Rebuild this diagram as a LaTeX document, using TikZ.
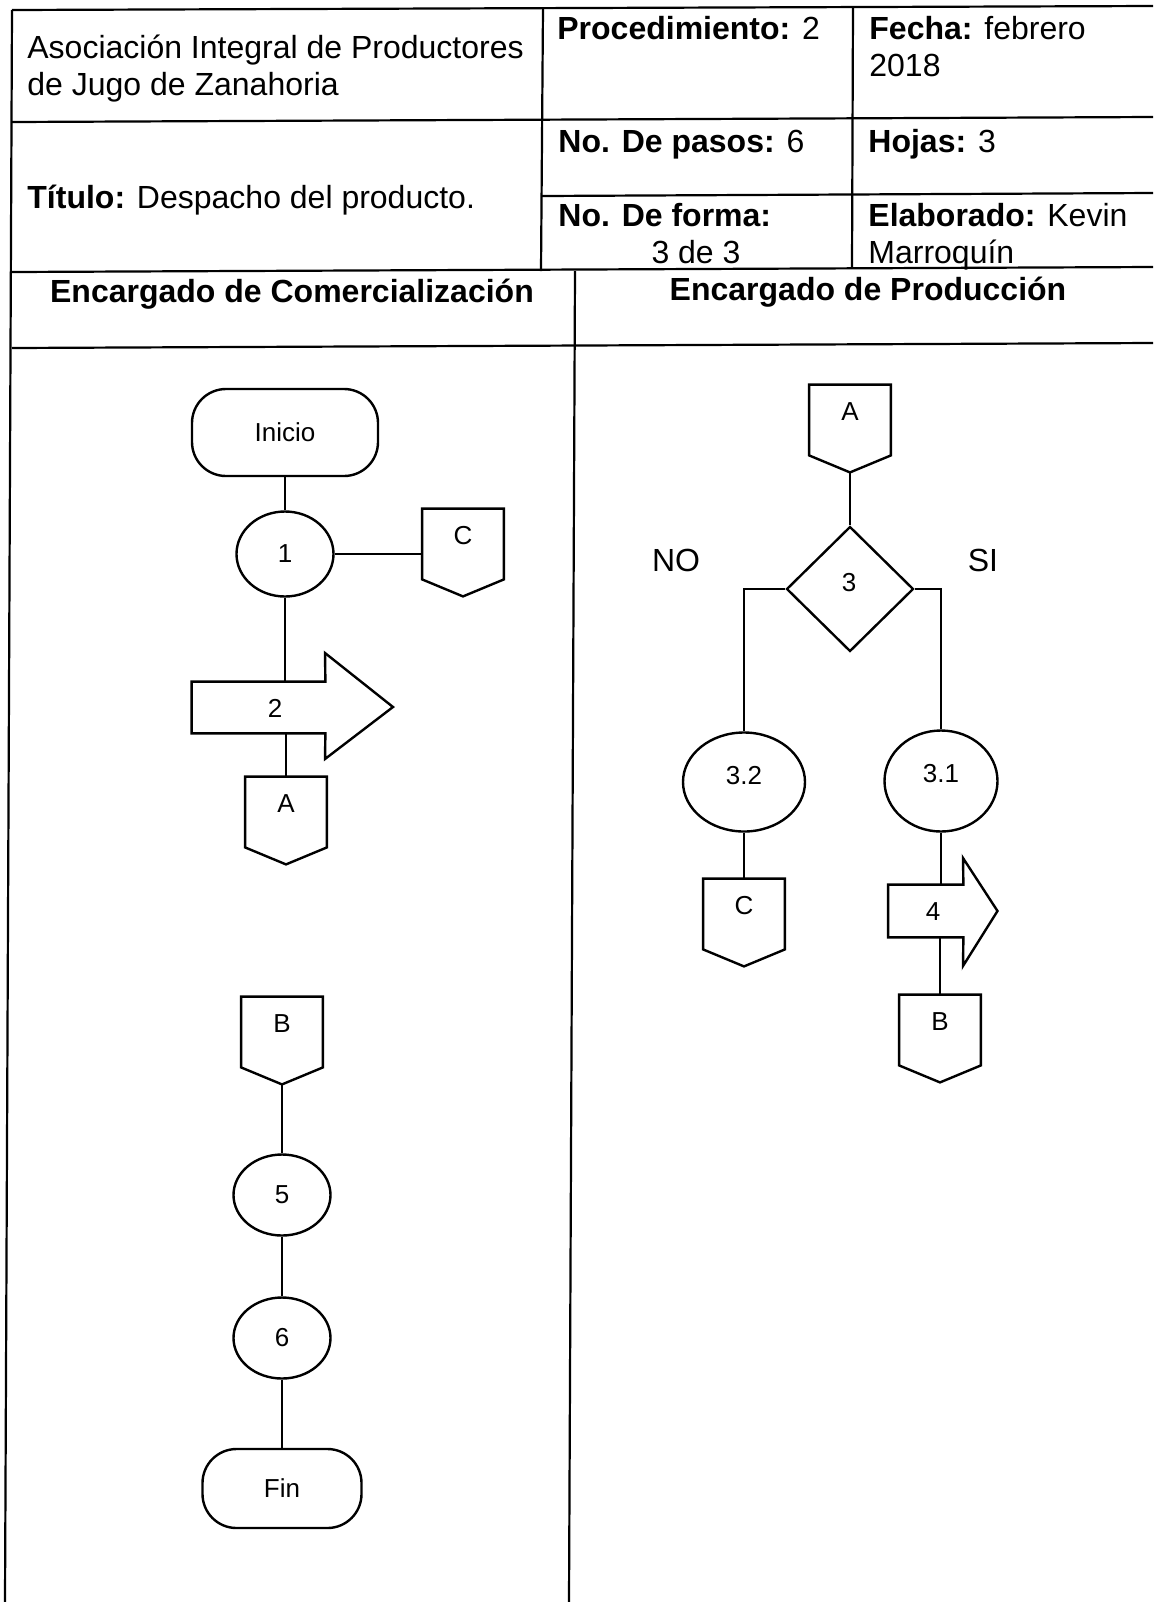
\documentclass[tikz,border=0pt]{standalone}
\usepackage{fontspec}
\setmainfont{Liberation Sans}
\usetikzlibrary{shapes.geometric}

% off-page connector: name, centre x, top y, letter
\newcommand\offpage[4]{%
  \node[offbox] (#1) at (#2,#3+35) {};
  \node[lab] (#1-t) at (#2,#3+27) {#4};
  \draw[shp] (#1.north west) -- (#1.north east) -- (#1.south east)
    -- ([yshift=-8.5pt]#1.south) coordinate (#1-tip) -- (#1.south west) -- cycle;
}

\begin{document}
\begin{tikzpicture}[x=0.5pt,y=-0.5pt,
  grid/.style={line width=1.1pt},
  shp/.style={draw, line width=1.2pt},
  conn/.style={line width=1.2pt},
  hdr/.style={font=\fontsize{16}{19}\selectfont, inner sep=0pt, anchor=base west},
  hdrc/.style={font=\fontsize{16}{19}\selectfont, inner sep=0pt, anchor=base},
  lab/.style={font=\fontsize{13}{15}\selectfont, inner sep=0pt},
  term/.style={shp, rectangle, rounded corners=17pt, inner sep=0pt, font=\fontsize{13}{15}\selectfont},
  proc/.style={shp, ellipse, inner sep=0pt, font=\fontsize{13}{15}\selectfont},
  dec/.style={shp, diamond, inner sep=0pt, font=\fontsize{13}{15}\selectfont},
  offbox/.style={rectangle, minimum width=40.5pt, minimum height=35pt, inner sep=0pt},
  body/.style={rectangle, inner sep=0pt},
]
\useasboundingbox (0,0) rectangle (1153,1602);

% ---- form frame ----
\draw[grid] (12,10) -- (1153,6);
\draw[grid] (12,122) -- (1153,117);
\draw[grid] (542,196) -- (1153,193);
\draw[grid] (12,272) -- (1153,267);
\draw[grid] (12,348) -- (1153,343);
\draw[grid] (12,10) -- (5,1602);
\draw[grid] (543,8) -- (541,271);
\draw[grid] (853,7) -- (852,268);
\draw[grid] (575,271) -- (569,1602);

% ---- header texts ----
\node[hdr] (org1) at (27,58) {Asociación Integral de Productores};
\node[hdr] (org2) at (27,95) {de Jugo de Zanahoria};
\node[hdr] (proc) at (557,39) {\textbf{Procedimiento:} 2};
\node[hdr] (fec1) at (869,39) {\textbf{Fecha:} febrero};
\node[hdr] (fec2) at (869,76) {2018};
\node[hdr] (pasos) at (558,152) {\textbf{No. De pasos:} 6};
\node[hdr] (hojas) at (868,152) {\textbf{Hojas:} 3};
\node[hdr] (tit) at (27,208) {\textbf{Título:} Despacho del producto.};
\node[hdr] (forma1) at (558,226) {\textbf{No. De forma:}};
\node[hdrc] (forma2) at (696,263) {3 de 3};
\node[hdr] (elab1) at (868,226) {\textbf{Elaborado:} Kevin};
\node[hdr] (elab2) at (868,263) {Marroquín};
\node[hdrc] (lane1) at (292,302) {\textbf{Encargado de Comercialización}};
\node[hdrc] (lane2) at (868,300) {\textbf{Encargado de Producción}};

% ---- left lane ----
\node[term, minimum width=93pt, minimum height=43.5pt] (ini) at (285,432.5) {Inicio};
\node[proc, minimum width=48.5pt, minimum height=42.5pt] (c1) at (285,554) {1};
\offpage{lC}{463}{509}{C}
\node[body, minimum width=66.5pt, minimum height=25.5pt] (a2) at (258.5,707.5) {};
\draw[shp] (a2.north west) -- (a2.north east) -- (325,653) -- (393,707)
  -- (325,759) -- (a2.south east) -- (a2.south west) -- cycle;
\node[lab] (a2-t) at (275,708) {2};
\offpage{lA}{286}{777}{A}

\offpage{lB}{282}{997}{B}
\node[proc, minimum width=48.5pt, minimum height=40.5pt] (c5) at (282,1195) {5};
\node[proc, minimum width=48.5pt, minimum height=40.5pt] (c6) at (282,1338) {6};
\node[term, minimum width=79.5pt, minimum height=39.5pt] (fin) at (282,1488.5) {Fin};

\draw[conn] (c1.north |- ini.south) -- (c1.north);
\draw[conn] (c1.east) -- (c1.east -| lC.west);
\draw[conn] (c1.south) -- (c1.south |- a2.north);
\draw[conn] (a2.south -| lA.north) -- (lA.north);
\draw[conn] (lB-tip) -- (c5.north);
\draw[conn] (c5.south) -- (c6.north);
\draw[conn] (c6.south) -- (fin.north);

% ---- right lane ----
\offpage{rA}{850}{385}{A}
\node[dec, minimum width=63.5pt, minimum height=62.5pt] (d3) at (850,589) {};
\node[lab] (d3-t) at (849,583) {3};
\node[font=\fontsize{16}{19}\selectfont, inner sep=0pt] (no) at (676,560) {NO};
\node[font=\fontsize{16}{19}\selectfont, inner sep=0pt] (si) at (983,560) {SI};
\node[proc, minimum width=61pt, minimum height=49.5pt] (c32) at (744,782) {};
\node[lab] (c32-t) at (744,776) {3.2};
\node[proc, minimum width=56.5pt, minimum height=50.5pt] (c31) at (941,781) {};
\node[lab] (c31-t) at (941,774) {3.1};
\offpage{rC}{744}{879}{C}
\node[body, minimum width=37.25pt, minimum height=26pt] (a4) at (925.75,911) {};
\draw[shp] (a4.north west) -- (a4.north east) -- (963,858) -- (997.5,911)
  -- (963,966) -- (a4.south east) -- (a4.south west) -- cycle;
\node[lab] (a4-t) at (933,912) {4};
\offpage{rB}{940}{995}{B}

\draw[conn] (rA-tip) -- (d3.north);
\draw[conn] (d3.west) -| (c32.north);
\draw[conn] (d3.east) -| (c31.north);
\draw[conn] (c32.south) -- (rC.north);
\draw[conn] (c31.south) -- (c31.south |- a4.north);
\draw[conn] (a4.south -| rB.north) -- (rB.north);
\end{tikzpicture}
\end{document}
